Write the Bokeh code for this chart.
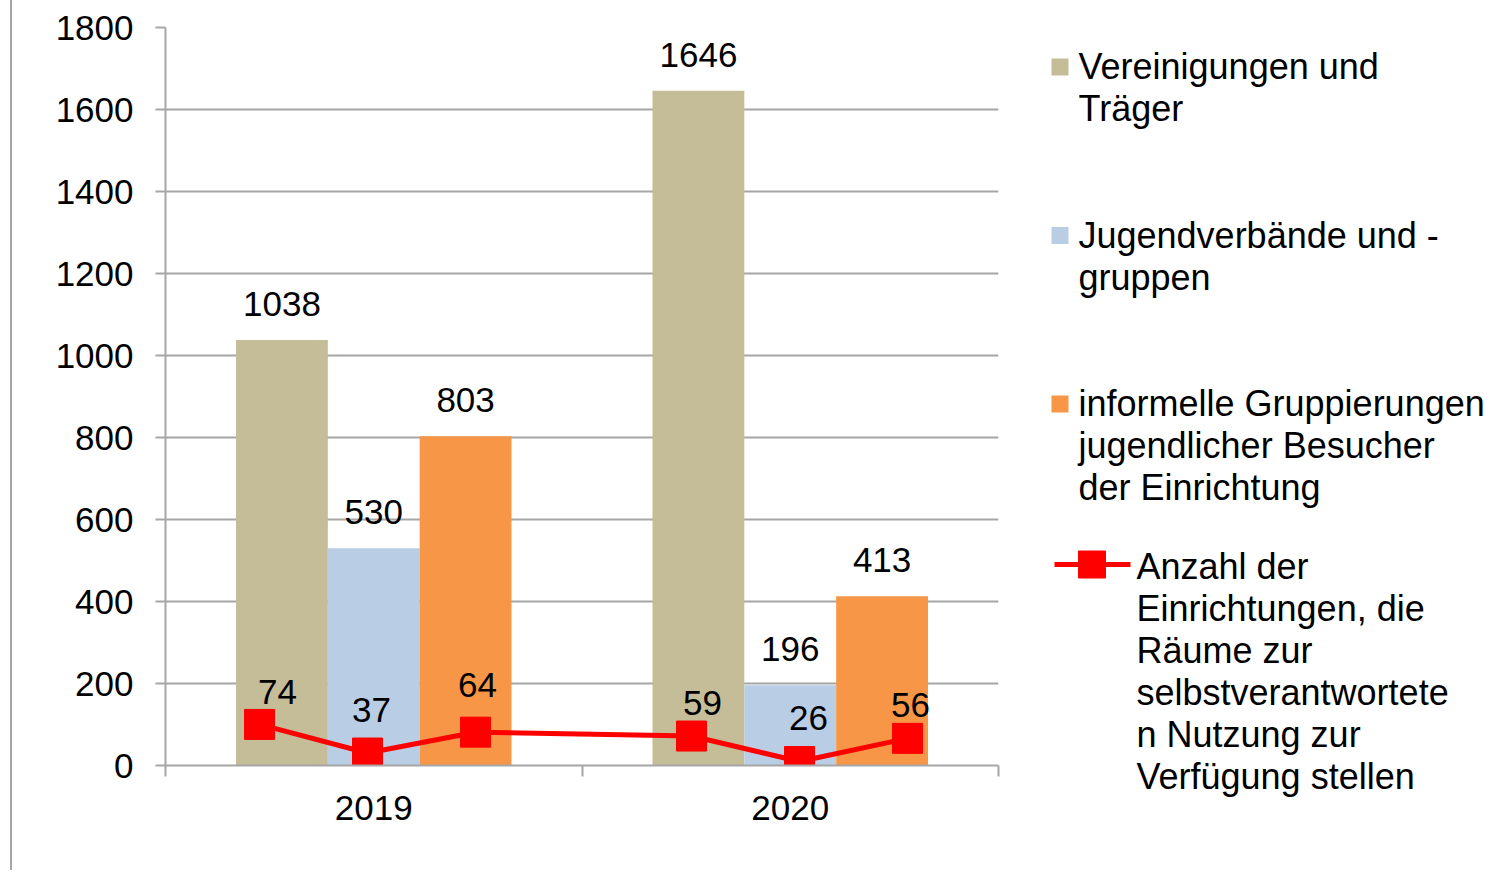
from bokeh.plotting import figure
from bokeh.layouts import row, column
from bokeh.models import Range1d, FixedTicker, Div
from bokeh.core.properties import value
from bokeh.embed import file_html
from bokeh.resources import INLINE

# ---------------- data ----------------
years = ["2019", "2020"]
vereinigungen = [1038, 1646]
jugendverbaende = [530, 196]
informelle = [803, 413]
anzahl_2019 = [74, 37, 64]
anzahl_2020 = [59, 26, 56]

series_names = [
    ["Vereinigungen und", "Träger"],
    ["Jugendverbände und -", "gruppen"],
    ["informelle Gruppierungen", "jugendlicher Besucher", "der Einrichtung"],
]
line_name = ["Anzahl der", "Einrichtungen, die", "Räume zur", "selbstverantwortete",
             "n Nutzung zur", "Verfügung stellen"]
y_ticks = [0, 200, 400, 600, 800, 1000, 1200, 1400, 1600, 1800]

# ---------------- styles ----------------
FONT = "Liberation Sans"
colors = ["#C4BD97", "#B9CDE5", "#F79646"]
RED = "#FF0000"
GRID = "#A6A6A6"
H = 870
TOP, BOTTOM = 27, 105
bar_w = 0.2205
mk_start, mk_step = 0.2257, 0.2593
# label nudges (screen px) for line labels (text centre relative to marker)
lbl_dx = [18, 4, 2, 11, 9, 3]
lbl_dy = [-32, -43, -47.5, -33, -44, -33.5]

# ---------------- left border ----------------
strip = Div(text="", width=12, height=H, margin=0,
            styles={"background": "linear-gradient(to right, #ffffff 10px, #A6A6A6 10px, #A6A6A6 12px)"})

# ---------------- chart ----------------
p = figure(width=1006, height=H, toolbar_location=None, output_backend="svg",
           x_range=Range1d(0, 2), y_range=Range1d(0, 1800),
           min_border_left=153, min_border_right=20, min_border_top=TOP, min_border_bottom=BOTTOM)
p.outline_line_color = None
p.extra_y_ranges = {"count": Range1d(20.85, 976.3)}

p.xgrid.visible = False
p.ygrid.grid_line_color = GRID
p.ygrid.grid_line_width = 2
p.ygrid.ticker = FixedTicker(ticks=y_ticks)

yax = p.yaxis[0]
yax.ticker = FixedTicker(ticks=y_ticks)
yax.axis_line_color = GRID
yax.axis_line_width = 2
yax.major_tick_line_color = GRID
yax.major_tick_line_width = 2
yax.major_tick_out = 10
yax.major_tick_in = 0
yax.minor_tick_line_color = None
yax.major_label_text_font = FONT
yax.major_label_text_font_size = "35px"
yax.major_label_text_color = "black"
yax.major_label_standoff = 22

xax = p.xaxis[0]
centers = [i + 0.5 for i in range(len(years))]
xax.ticker = FixedTicker(ticks=centers, minor_ticks=[i for i in range(len(years) + 1)])
xax.major_label_overrides = {c: y for c, y in zip(centers, years)}
xax.axis_line_color = GRID
xax.axis_line_width = 2
xax.major_tick_line_color = None
xax.major_tick_out = 11
xax.major_tick_in = 0
xax.minor_tick_line_color = GRID
xax.minor_tick_line_width = 2
xax.minor_tick_out = 11
xax.minor_tick_in = 0
xax.major_label_text_font = FONT
xax.major_label_text_font_size = "35px"
xax.major_label_text_color = "black"
xax.major_label_standoff = 19

series = [vereinigungen, jugendverbaende, informelle]
for j, (vals, col) in enumerate(zip(series, colors)):
    xs = [c + (j - 1) * bar_w for c in centers]
    p.vbar(x=xs, top=vals, width=bar_w, fill_color=col, line_color=None)
    p.text(x=xs, y=vals, text=[str(v) for v in vals], y_offset=-36,
           text_align="center", text_baseline="middle",
           text_font=value(FONT), text_font_size="35px", text_color="black")

anzahl = anzahl_2019 + anzahl_2020
lx = []
for g in range(len(years)):
    for j in range(3):
        lx.append(mk_start + mk_step * (4 * g + j))
p.line(lx, anzahl, y_range_name="count", line_color=RED, line_width=5)
p.scatter(lx, anzahl, y_range_name="count", marker="square", size=30,
          fill_color=RED, line_color=RED)
for x, v, dx, dy in zip(lx, anzahl, lbl_dx, lbl_dy):
    p.text(x=[x], y=[v], text=[str(v)], x_offset=dx, y_offset=dy, y_range_name="count",
           text_align="center", text_baseline="middle",
           text_font=value(FONT), text_font_size="35px", text_color="black")

# ---------------- legend ----------------
LEFT_PAGE = 12 + 1006
lg = figure(width=477, height=H, toolbar_location=None, output_backend="svg",
            min_border=0, x_range=Range1d(0, 477), y_range=Range1d(H, 0))
lg.axis.visible = False
lg.grid.visible = False
lg.outline_line_color = None

LH = 42
sq_y = [66.5, 235, 403.5]
first_line = [65.5, 234.5, 402.5]


def legend_text(x, ys, lines):
    lg.text(x=[x] * len(lines), y=ys, text=lines, text_align="left", text_baseline="middle",
            text_font=value(FONT), text_font_size="36px", text_color="black")


for k in range(3):
    lg.scatter([1059.5 - LEFT_PAGE], [sq_y[k]], marker="square", size=17,
               fill_color=colors[k], line_color=None)
    legend_text(1078 - LEFT_PAGE, [first_line[k] + i * LH for i in range(len(series_names[k]))],
                series_names[k])

lg.line([1054 - LEFT_PAGE, 1130 - LEFT_PAGE], [564, 564], line_color=RED, line_width=5)
lg.scatter([1091.5 - LEFT_PAGE], [564], marker="square", size=27, fill_color=RED, line_color=RED)
legend_text(1136 - LEFT_PAGE, [565.5 + i * LH for i in range(len(line_name))], line_name)

layout = row(strip, p, column(lg))
open("out.html", "w").write(file_html(layout, INLINE))
